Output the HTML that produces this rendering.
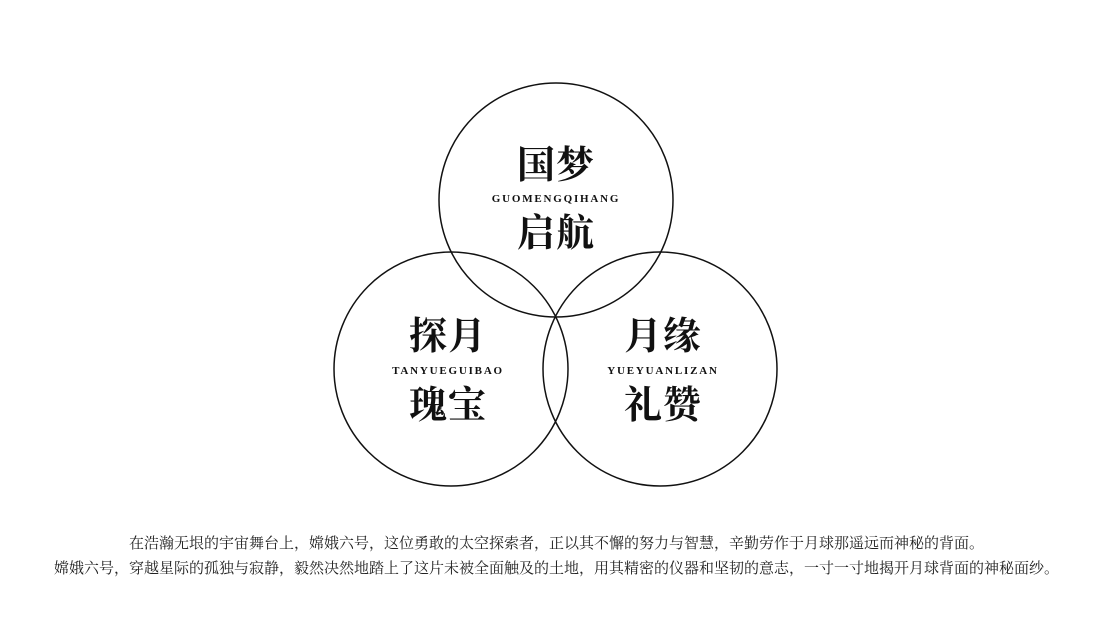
<!DOCTYPE html>
<html><head><meta charset="utf-8"><style>
html,body{margin:0;padding:0;background:#fff;}
body{width:1113px;height:627px;position:relative;overflow:hidden;}
.t{position:absolute;font-family:"Liberation Serif","Noto Serif CJK SC",serif;color:#111;text-align:center;white-space:nowrap;}
.big{font-size:38px;font-weight:bold;line-height:38px;letter-spacing:1px;}
.sub{font-size:11px;font-weight:bold;line-height:11px;letter-spacing:1.8px;}
.p{font-size:15px;line-height:15px;color:#222;}
</style></head><body>
<svg width="1113" height="627" style="position:absolute;left:0;top:0">
<circle cx="556" cy="200" r="117" fill="none" stroke="#111" stroke-width="1.5"/>
<circle cx="451" cy="369" r="117" fill="none" stroke="#111" stroke-width="1.5"/>
<circle cx="660" cy="369" r="117" fill="none" stroke="#111" stroke-width="1.5"/>
</svg>
<div class="t big" style="left:456px;width:200px;top:147px">国梦</div>
<div class="t sub" style="left:456px;width:200px;top:194px">GUOMENGQIHANG</div>
<div class="t big" style="left:456px;width:200px;top:215px">启航</div>
<div class="t big" style="left:348px;width:200px;top:318px">探月</div>
<div class="t sub" style="left:348px;width:200px;top:366px">TANYUEGUIBAO</div>
<div class="t big" style="left:348px;width:200px;top:387px">瑰宝</div>
<div class="t big" style="left:563px;width:200px;top:318px">月缘</div>
<div class="t sub" style="left:563px;width:200px;top:366px">YUEYUANLIZAN</div>
<div class="t big" style="left:563px;width:200px;top:387px">礼赞</div>
<div class="t p" style="left:0;width:1113px;top:537px">在浩瀚无垠的宇宙舞台上，嫦娥六号，这位勇敢的太空探索者，正以其不懈的努力与智慧，辛勤劳作于月球那遥远而神秘的背面。</div>
<div class="t p" style="left:0;width:1113px;top:562px">嫦娥六号，穿越星际的孤独与寂静，毅然决然地踏上了这片未被全面触及的土地，用其精密的仪器和坚韧的意志，一寸一寸地揭开月球背面的神秘面纱。</div>
</body></html>
